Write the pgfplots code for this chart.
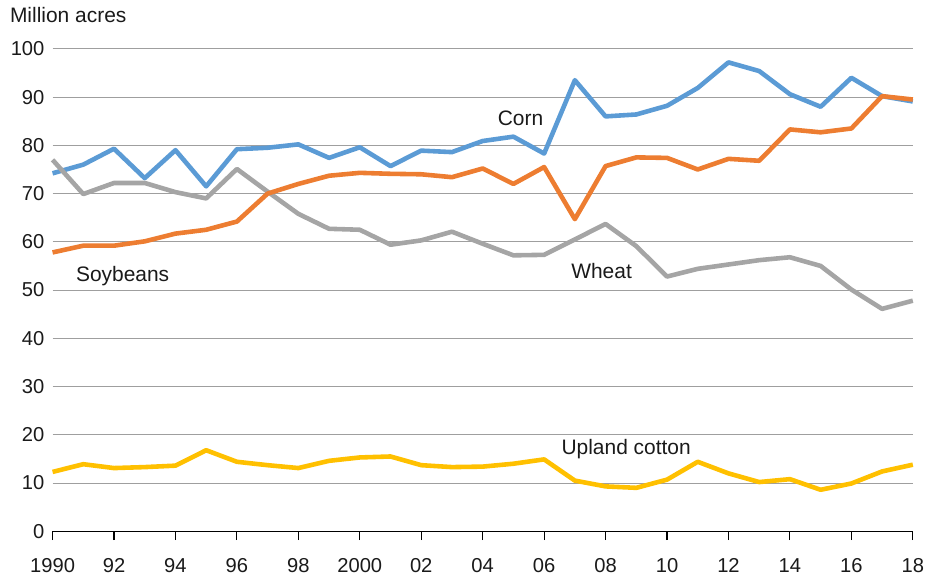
\documentclass[border=0pt]{standalone}
\usepackage{pgfplots}
\pgfplotsset{compat=1.18}
\usepackage{fontspec}
\setmainfont{Liberation Sans}

\definecolor{corncol}{HTML}{5B9BD5}
\definecolor{soycol}{HTML}{ED7D31}
\definecolor{wheatcol}{HTML}{A5A5A5}
\definecolor{cottoncol}{HTML}{FFC000}
\definecolor{txt}{HTML}{1A1A1A}

\begin{document}
\begin{tikzpicture}
\fontsize{21pt}{25pt}\selectfont
\begin{axis}[
    name=ax,
    at={(0,0)}, anchor=south west,
    scale only axis,
    width=862.6pt, height=483.7pt,
    xmin=1990, xmax=2018,
    ymin=0, ymax=100,
    clip=false,
    axis x line*=bottom,
    axis y line*=left,
    y axis line style={draw=none},
    x axis line style={black, line width=1.1pt},
    xtick={1990,1992,...,2018},
    xticklabels={1990,92,94,96,98,2000,02,04,06,08,10,12,14,16,18},
    ytick={0,10,...,100},
    xtick align=outside,
    major tick length=9pt,
    xtick style={black, line width=1.1pt},
    ytick style={draw=none},
    ymajorgrids=true,
    grid style={draw=gray!75, line width=0.8pt},
    tick label style={font=\fontsize{20.2pt}{24pt}\selectfont, text=txt},
    xticklabel style={yshift=-11pt},
    yticklabel style={xshift=-1pt},
    /pgf/number format/assume math mode=true,
    every axis plot/.append style={line width=4.6pt, line join=round},
]

% Corn
\addplot[corncol] coordinates {
(1990,74.2) (1991,76.0) (1992,79.3) (1993,73.2) (1994,79.0) (1995,71.5)
(1996,79.2) (1997,79.5) (1998,80.2) (1999,77.4) (2000,79.6) (2001,75.7)
(2002,78.9) (2003,78.6) (2004,80.9) (2005,81.8) (2006,78.3) (2007,93.5)
(2008,86.0) (2009,86.4) (2010,88.2) (2011,91.9) (2012,97.2) (2013,95.4)
(2014,90.6) (2015,88.0) (2016,94.0) (2017,90.2) (2018,89.1)
};

% Wheat
\addplot[wheatcol] coordinates {
(1990,77.0) (1991,69.9) (1992,72.2) (1993,72.2) (1994,70.3) (1995,69.0)
(1996,75.1) (1997,70.4) (1998,65.8) (1999,62.7) (2000,62.5) (2001,59.4)
(2002,60.3) (2003,62.1) (2004,59.6) (2005,57.2) (2006,57.3) (2007,60.5)
(2008,63.7) (2009,59.1) (2010,52.8) (2011,54.4) (2012,55.3) (2013,56.2)
(2014,56.8) (2015,55.0) (2016,50.1) (2017,46.1) (2018,47.8)
};

% Soybeans
\addplot[soycol] coordinates {
(1990,57.8) (1991,59.2) (1992,59.2) (1993,60.1) (1994,61.7) (1995,62.5)
(1996,64.2) (1997,70.0) (1998,72.0) (1999,73.7) (2000,74.3) (2001,74.1)
(2002,74.0) (2003,73.4) (2004,75.2) (2005,72.0) (2006,75.5) (2007,64.7)
(2008,75.7) (2009,77.5) (2010,77.4) (2011,75.0) (2012,77.2) (2013,76.8)
(2014,83.3) (2015,82.7) (2016,83.5) (2017,90.2) (2018,89.5)
};

% Upland cotton
\addplot[cottoncol] coordinates {
(1990,12.3) (1991,13.9) (1992,13.1) (1993,13.3) (1994,13.6) (1995,16.8)
(1996,14.4) (1997,13.7) (1998,13.1) (1999,14.6) (2000,15.3) (2001,15.5)
(2002,13.7) (2003,13.3) (2004,13.4) (2005,14.0) (2006,14.9) (2007,10.5)
(2008,9.3) (2009,9.0) (2010,10.7) (2011,14.4) (2012,12.0) (2013,10.2)
(2014,10.8) (2015,8.6) (2016,9.9) (2017,12.4) (2018,13.8)
};

% Series labels
\node[text=txt] at (axis cs:2005.23,85.7) {Corn};
\node[text=txt] at (axis cs:1992.28,53.0) {Soybeans};
\node[text=txt] at (axis cs:2007.87,53.9) {Wheat};
\node[text=txt] at (axis cs:2008.67,17.1) {Upland cotton};
\node[text=txt, anchor=west, inner sep=0pt] at (axis cs:1988.61,107.0) {Million acres};

\end{axis}
% fix canvas to reference proportions
\path (ax.south west) ++(-52.7pt,-48.3pt) coordinate (bl);
\path (ax.north east) ++(15.7pt,49pt) coordinate (tr);
\path[use as bounding box] (bl) rectangle (tr);
\end{tikzpicture}
\end{document}
